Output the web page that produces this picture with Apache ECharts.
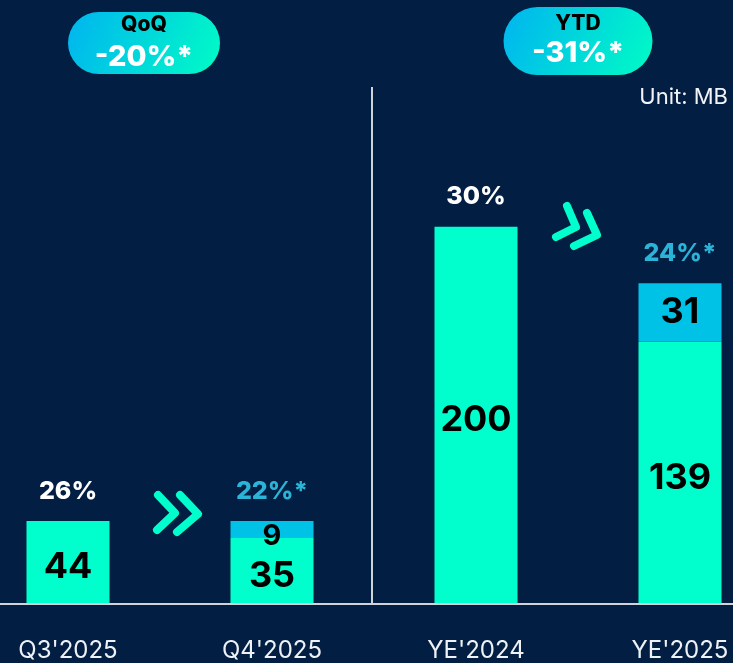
<!DOCTYPE html>
<html>
<head>
<meta charset="utf-8">
<title>Volume chart</title>
<script src="https://cdn.jsdelivr.net/npm/echarts@6/dist/echarts.min.js"></script>
<style>
  html, body { margin: 0; padding: 0; background: #021e43; }
  #chart { width: 733px; height: 663px; }
</style>
</head>
<body>
<div id="chart"></div>
<script>
// data
const categories = ["Q3'2025", "Q4'2025", "YE'2024", "YE'2025"];
const baseValues = [44, 35, 200, 139];
const extraValues = [null, 9, null, 31];
const ratioLabels = ['26%', '22%*', '30%', '24%*'];
const badgeTitles = ['QoQ', 'YTD'];
const badgeValues = ['-20%*', '-31%*'];

const MINT = '#00ffcc';
const BLUE = '#00c2e6';
const FONT = 'Inter, "Noto Sans", sans-serif';

const totals = baseValues.map((v, i) => v + (extraValues[i] || 0));

const chartDom = document.getElementById('chart');
const myChart = echarts.init(chartDom);

// pill badge with a gradient
function badge(cx, top, w, h, title, value, titleY, valueY) {
  return {
    type: 'group',
    children: [
      {
        type: 'rect',
        shape: { x: cx - w / 2, y: top, width: w, height: h, r: h / 2 },
        style: {
          fill: new echarts.graphic.LinearGradient(0, 0, 1, 1, [
            { offset: 0, color: '#00b4f0' },
            { offset: 1, color: '#00fcc6' }
          ])
        }
      },
      {
        type: 'text',
        x: cx, y: titleY,
        style: { text: title, fill: '#000', font: '800 21px ' + FONT, align: 'center', verticalAlign: 'middle' }
      },
      {
        type: 'text',
        x: cx, y: valueY,
        style: {
          text: value, fill: '#fff', font: '800 29px ' + FONT, align: 'center', verticalAlign: 'middle',
          shadowColor: 'rgba(0,0,0,0.35)', shadowBlur: 3, shadowOffsetX: 1, shadowOffsetY: 2
        }
      }
    ]
  };
}

// double chevron ">>"
function chevrons(pts1, pts2) {
  const line = (pts) => ({
    type: 'polyline',
    shape: { points: pts },
    style: { stroke: MINT, lineWidth: 8, lineCap: 'round', lineJoin: 'round', fill: null }
  });
  return { type: 'group', children: [line(pts1), line(pts2)] };
}

const option = {
  backgroundColor: '#021e43',
  animation: false,
  grid: { left: 68, right: 53, top: 38, bottom: 56 },
  xAxis: {
    type: 'category',
    data: categories,
    boundaryGap: false,
    axisLine: { show: false },
    axisTick: { show: false },
    axisLabel: { color: '#eef1f5', fontSize: 24, fontFamily: FONT, margin: 35 }
  },
  yAxis: {
    type: 'value',
    min: 0,
    max: 300,
    show: false,
    splitLine: { show: false }
  },
  series: [
    {
      name: 'base',
      type: 'bar',
      stack: 'vol',
      barWidth: 83,
      data: baseValues,
      itemStyle: { color: MINT },
      label: {
        show: true,
        position: 'inside',
        offset: [0, 5],
        color: '#000',
        fontSize: 36,
        fontWeight: 'bold',
        fontFamily: FONT
      }
    },
    {
      name: 'extra',
      type: 'bar',
      stack: 'vol',
      barWidth: 83,
      data: extraValues,
      itemStyle: { color: BLUE },
      label: {
        show: true,
        position: 'inside',
        color: '#000',
        fontFamily: FONT,
        fontWeight: 'bold',
        formatter: (p) => p.value < 15 ? '{s|' + p.value + '}' : '{b|' + p.value + '}',
        rich: {
          s: { fontSize: 29, fontWeight: 'bold', fontFamily: FONT, color: '#000', padding: [14, 0, 0, 0] },
          b: { fontSize: 36, fontWeight: 'bold', fontFamily: FONT, color: '#000' }
        }
      }
    },
    {
      name: 'ratio',
      type: 'scatter',
      // adjusted figures (with *) shown in blue
      data: totals.map((v, i) => ({
        value: v,
        label: { color: extraValues[i] ? '#2ab4d8' : '#ffffff' }
      })),
      symbolSize: 1,
      itemStyle: { color: 'rgba(0,0,0,0)', opacity: 1 },
      silent: true,
      z: 5,
      label: {
        show: true,
        position: 'top',
        distance: 17,
        fontSize: 25,
        fontWeight: 800,
        fontFamily: FONT,
        formatter: (p) => ratioLabels[p.dataIndex]
      }
    }
  ]
};

myChart.setOption(option, true);

// baseline + decorations, placed from the grid
const baseY = myChart.convertToPixel({ yAxisIndex: 0 }, 0);
myChart.setOption({
  graphic: [
    {
      type: 'line',
      shape: { x1: 0, y1: baseY, x2: 733, y2: baseY },
      style: { stroke: '#cfd3da', lineWidth: 2 },
      z: 10
    },
    {
      type: 'line',
      shape: { x1: 372, y1: 87, x2: 372, y2: baseY },
      style: { stroke: '#cfd3da', lineWidth: 2 }
    },
    badge(144, 12, 152, 62, badgeTitles[0], badgeValues[0], 25, 57),
    badge(578, 7, 149, 68, badgeTitles[1], badgeValues[1], 24, 53),
    {
      type: 'text',
      right: 5, top: 86,
      style: { text: 'Unit: MB', fill: '#f2f4f7', font: '22px ' + FONT }
    },
    chevrons([[158, 495], [175, 513], [157, 530]], [[180, 495], [198, 514], [177, 532]]),
    chevrons([[567, 206], [576, 227], [556, 237]], [[587, 213], [597, 235], [574, 246]])
  ]
});
</script>
</body>
</html>
